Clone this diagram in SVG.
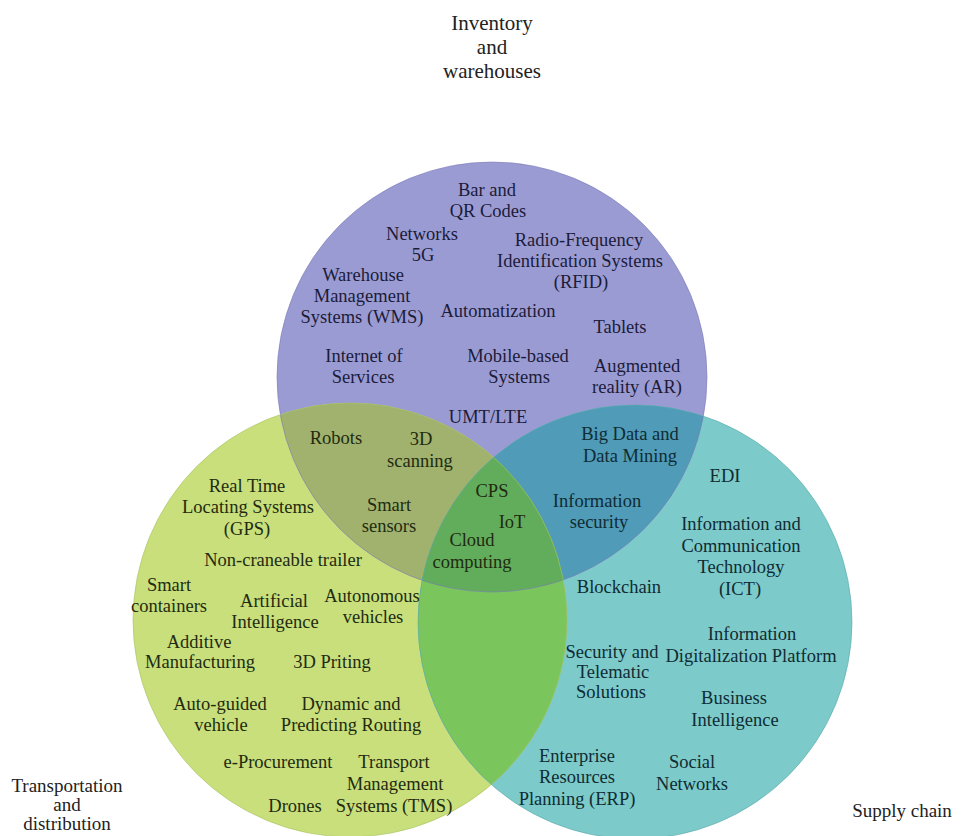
<svg xmlns="http://www.w3.org/2000/svg" width="974" height="836" viewBox="0 0 974 836">
<style>
text{font-family:"Liberation Serif","DejaVu Serif",serif;font-size:18.5px;text-anchor:middle}
.p{fill:#1c1c38}
.g{fill:#1f2b10}
.t{fill:#0f2c33}
.o{fill:#222;font-size:19px}
.top{font-size:21px}
.edge{fill:none;stroke-width:1}
</style>
<defs>
<clipPath id="cpP"><circle cx="492" cy="377" r="215"/></clipPath>
<clipPath id="cpG"><circle cx="350" cy="620" r="217"/></clipPath>
<clipPath id="cpT"><circle cx="635" cy="622" r="217"/></clipPath>
</defs>
<rect width="974" height="836" fill="#ffffff"/>
<g id="shapes">
<circle cx="492" cy="377" r="215" fill="#9b9bd4"/>
<circle cx="350" cy="620" r="217" fill="#c8df7c"/>
<circle cx="635" cy="622" r="217" fill="#7dcaca"/>
<g clip-path="url(#cpP)"><circle cx="350" cy="620" r="217" fill="#a0b26e"/></g>
<g clip-path="url(#cpP)"><circle cx="635" cy="622" r="217" fill="#4f9bb8"/></g>
<g clip-path="url(#cpG)"><circle cx="635" cy="622" r="217" fill="#7ac55c"/></g>
<g clip-path="url(#cpP)"><g clip-path="url(#cpG)"><circle cx="635" cy="622" r="217" fill="#62ad5b"/></g></g>
<circle class="edge" cx="492" cy="377" r="215" stroke="#7c7cb8" stroke-opacity="0.6"/>
<circle class="edge" cx="350" cy="620" r="217" stroke="#a9c260" stroke-opacity="0.6"/>
<circle class="edge" cx="635" cy="622" r="217" stroke="#5aa9aa" stroke-opacity="0.6"/>
</g>
<g id="connectors"></g>
<g id="inventory">
<text class="o top" x="492" y="30">Inventory</text>
<text class="o top" x="492" y="54">and</text>
<text class="o top" x="492" y="78">warehouses</text>
<text class="p" x="487" y="196">Bar and</text>
<text class="p" x="488" y="217">QR Codes</text>
<text class="p" x="422" y="240">Networks</text>
<text class="p" x="423" y="261">5G</text>
<text class="p" x="579" y="246">Radio-Frequency</text>
<text class="p" x="580" y="267">Identification Systems</text>
<text class="p" x="581" y="288">(RFID)</text>
<text class="p" x="363" y="281">Warehouse</text>
<text class="p" x="362" y="302">Management</text>
<text class="p" x="362" y="323">Systems (WMS)</text>
<text class="p" x="498" y="317">Automatization</text>
<text class="p" x="620" y="333">Tablets</text>
<text class="p" x="364" y="362">Internet of</text>
<text class="p" x="363" y="383">Services</text>
<text class="p" x="518" y="362">Mobile-based</text>
<text class="p" x="519" y="383">Systems</text>
<text class="p" x="637" y="372">Augmented</text>
<text class="p" x="637" y="393">reality (AR)</text>
<text class="p" x="488" y="423">UMT/LTE</text>
</g>
<g id="transportation">
<text class="o" x="67" y="792">Transportation</text>
<text class="o" x="67" y="811">and</text>
<text class="o" x="67" y="830">distribution</text>
<text class="g" x="247" y="492">Real Time</text>
<text class="g" x="248" y="513">Locating Systems</text>
<text class="g" x="247" y="535">(GPS)</text>
<text class="g" x="283" y="566">Non-craneable trailer</text>
<text class="g" x="169" y="591">Smart</text>
<text class="g" x="169" y="612">containers</text>
<text class="g" x="274" y="607">Artificial</text>
<text class="g" x="275" y="628">Intelligence</text>
<text class="g" x="372" y="602">Autonomous</text>
<text class="g" x="373" y="623">vehicles</text>
<text class="g" x="199" y="648">Additive</text>
<text class="g" x="200" y="668">Manufacturing</text>
<text class="g" x="332" y="668">3D Priting</text>
<text class="g" x="220" y="710">Auto-guided</text>
<text class="g" x="221" y="731">vehicle</text>
<text class="g" x="351" y="710">Dynamic and</text>
<text class="g" x="351" y="731">Predicting Routing</text>
<text class="g" x="278" y="768">e-Procurement</text>
<text class="g" x="394" y="768">Transport</text>
<text class="g" x="395" y="790">Management</text>
<text class="g" x="394" y="812">Systems (TMS)</text>
<text class="g" x="295" y="812">Drones</text>
</g>
<g id="inventory-transportation">
<text class="g" x="336" y="444">Robots</text>
<text class="g" x="421" y="445">3D</text>
<text class="g" x="420" y="467">scanning</text>
<text class="g" x="389" y="511">Smart</text>
<text class="g" x="389" y="532">sensors</text>
</g>
<g id="center">
<text class="g" x="492" y="497">CPS</text>
<text class="g" x="512" y="528">IoT</text>
<text class="g" x="472" y="546">Cloud</text>
<text class="g" x="472" y="568">computing</text>
</g>
<g id="inventory-supply">
<text class="t" x="630" y="440">Big Data and</text>
<text class="t" x="630" y="462">Data Mining</text>
<text class="t" x="597" y="507">Information</text>
<text class="t" x="599" y="528">security</text>
</g>
<g id="supply">
<text class="o" x="902" y="817">Supply chain</text>
<text class="t" x="725" y="482">EDI</text>
<text class="t" x="741" y="530">Information and</text>
<text class="t" x="741" y="552">Communication</text>
<text class="t" x="741" y="573">Technology</text>
<text class="t" x="740" y="595">(ICT)</text>
<text class="t" x="619" y="593">Blockchain</text>
<text class="t" x="752" y="640">Information</text>
<text class="t" x="751" y="662">Digitalization Platform</text>
<text class="t" x="612" y="658">Security and</text>
<text class="t" x="613" y="678">Telematic</text>
<text class="t" x="611" y="698">Solutions</text>
<text class="t" x="734" y="704">Business</text>
<text class="t" x="735" y="726">Intelligence</text>
<text class="t" x="577" y="762">Enterprise</text>
<text class="t" x="577" y="783">Resources</text>
<text class="t" x="577" y="805">Planning (ERP)</text>
<text class="t" x="692" y="768">Social</text>
<text class="t" x="692" y="790">Networks</text>
</g>
</svg>
